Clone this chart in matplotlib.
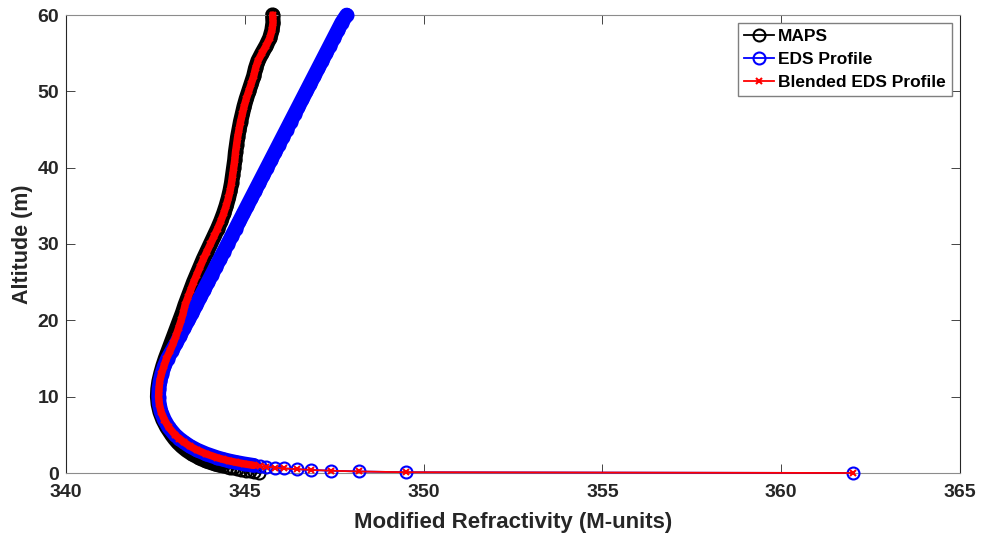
import matplotlib
matplotlib.use('Agg')
import matplotlib.pyplot as plt
import numpy as np

plt.rcParams['font.family'] = ['Liberation Sans', 'DejaVu Sans']
plt.rcParams['font.weight'] = 'bold'

# altitude levels (m)
alt = [0.0, 0.1, 0.2, 0.3, 0.4, 0.5, 0.6, 0.7, 0.8, 0.9, 1.0,
       1.2, 1.4, 1.6, 1.8, 2.0, 2.5, 3.0, 3.5, 4.0, 4.5, 5.0,
       6, 7, 8, 9, 10, 11, 12, 13, 14, 15, 16, 17, 18, 19, 20,
       21, 22, 23, 24, 25, 26, 27, 28, 29, 30, 31, 32, 33, 34, 35,
       36, 37, 38, 39, 40, 41, 42, 43, 44, 45, 46, 47, 48, 49, 50,
       51, 52, 53, 54, 55, 56, 57, 58, 59, 60]

# modified refractivity (M-units) at each level
maps_m = [345.40, 345.27, 345.14, 345.02, 344.90, 344.79, 344.68, 344.58, 344.49, 344.40, 344.32,
          344.17, 344.04, 343.92, 343.82, 343.73, 343.53, 343.37, 343.24, 343.13, 343.04, 342.96,
          342.82, 342.71, 342.63, 342.58, 342.56, 342.57, 342.60, 342.65, 342.71, 342.78, 342.86,
          342.94, 343.02, 343.10, 343.18, 343.26, 343.33, 343.41, 343.49, 343.57, 343.66, 343.75,
          343.84, 343.94, 344.04, 344.14, 344.24, 344.33, 344.41, 344.48, 344.54, 344.59, 344.63,
          344.66, 344.69, 344.72, 344.74, 344.77, 344.80, 344.84, 344.88, 344.93, 344.98, 345.04,
          345.11, 345.18, 345.25, 345.30, 345.37, 345.48, 345.60, 345.70, 345.76, 345.79, 345.78]

eds_m = [362.00, 349.50, 348.20, 347.40, 346.85, 346.45, 346.10, 345.85, 345.60, 345.42, 345.25,
         344.98, 344.75, 344.55, 344.38, 344.23, 343.92, 343.67, 343.47, 343.31, 343.17, 343.05,
         342.87, 342.75, 342.66, 342.61, 342.59, 342.60, 342.63, 342.68, 342.75, 342.84, 342.96,
         343.08, 343.19, 343.30, 343.42, 343.53, 343.64, 343.75, 343.86, 343.97, 344.08, 344.19,
         344.30, 344.41, 344.52, 344.63, 344.74, 344.85, 344.96, 345.07, 345.18, 345.29, 345.40,
         345.51, 345.62, 345.73, 345.84, 345.95, 346.06, 346.17, 346.28, 346.39, 346.50, 346.61,
         346.72, 346.83, 346.94, 347.05, 347.16, 347.27, 347.38, 347.49, 347.60, 347.71, 347.85]

blend_m = [362.00, 349.50, 348.20, 347.40, 346.85, 346.45, 346.10, 345.85, 345.60, 345.42, 345.25,
           344.98, 344.75, 344.55, 344.38, 344.23, 343.92, 343.67, 343.47, 343.31, 343.17, 343.05,
           342.87, 342.75, 342.66, 342.61, 342.59, 342.60, 342.62, 342.67, 342.74, 342.81, 342.91,
           343.00, 343.08, 343.15, 343.22, 343.28, 343.33, 343.41, 343.49, 343.57, 343.66, 343.75,
           343.84, 343.94, 344.04, 344.14, 344.24, 344.33, 344.41, 344.48, 344.54, 344.59, 344.63,
           344.66, 344.69, 344.72, 344.74, 344.77, 344.80, 344.84, 344.88, 344.93, 344.98, 345.04,
           345.11, 345.18, 345.25, 345.30, 345.37, 345.48, 345.60, 345.70, 345.76, 345.79, 345.78]

z = np.array(alt)
dense = z >= 1.0  # levels where the markers overlap into a solid band

fig = plt.figure(figsize=(9.82, 5.37), dpi=100)
ax = fig.add_axes([66 / 982, 64 / 537, 894 / 982, 458 / 537])

series = [
    (maps_m, 'k', 'o', 8.6, 'MAPS', 11.0),
    (eds_m, 'b', 'o', 8.6, 'EDS Profile', 10.6),
    (blend_m, 'r', 'x', 4.0, 'Blended EDS Profile', 5.4),
]
for i, (m, col, mk, ms, lab, bw) in enumerate(series):
    m = np.array(m)
    ax.plot(m[dense], z[dense], '-', color=col, lw=bw, solid_capstyle='round',
            zorder=2 + 2 * i, clip_on=False)
    ax.plot(m, z, '-', color=col, marker=mk, ms=ms, mew=1.5, mfc='none', lw=1.3,
            label=lab, zorder=3 + 2 * i, clip_on=False)

ax.set_xlim(340, 365)
ax.set_ylim(0, 60)
ax.set_xticks(range(340, 366, 5))
ax.set_yticks(range(0, 61, 10))
ax.tick_params(direction='in', length=6.5, width=0.6, top=True, right=True,
               labelsize=14, colors='#262626')
ax.tick_params(axis='x', pad=8)
ax.tick_params(axis='y', pad=5)
for side in ('left', 'right'):
    ax.spines[side].set_color('#262626')
    ax.spines[side].set_linewidth(0.8)
for side in ('top', 'bottom'):
    ax.spines[side].set_color('#8c8c8c')
    ax.spines[side].set_linewidth(0.8)

ax.set_xlabel('Modified Refractivity (M-units)', fontsize=16, fontweight='bold',
              color='#262626', labelpad=8)
ax.set_ylabel('Altitude (m)', fontsize=15.5, fontweight='bold', color='#262626',
              labelpad=3)

leg = ax.legend(loc='upper right', fontsize=12.5, fancybox=False, framealpha=1,
                edgecolor='#7f7f7f', handlelength=1.75, handletextpad=0.25,
                labelspacing=0.45, borderpad=0.35, borderaxespad=0.45)
leg.get_frame().set_linewidth(1.0)

fig.savefig('out.png', dpi=100)
